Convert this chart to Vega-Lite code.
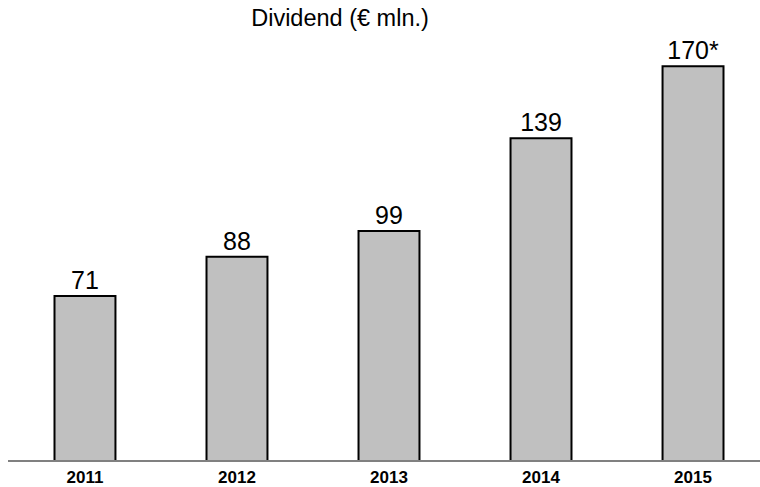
{
  "$schema": "https://vega.github.io/schema/vega-lite/v6.json",
  "width": 752,
  "height": 418,
  "autosize": {"type": "none"},
  "padding": {"left": 8, "top": 43, "right": 0, "bottom": 26},
  "background": "white",
  "config": {"view": {"stroke": null}, "font": "Liberation Sans"},
  "title": {"text": "Dividend (€ mln.)", "fontSize": 23.5, "fontWeight": "normal", "font": "Liberation Sans", "color": "#000000", "anchor": "middle", "dx": -44, "dy": 25, "offset": 15, "baseline": "alphabetic"},
  "data": {"values": [
    {"year": "2011", "value": 71, "label": "71"},
    {"year": "2012", "value": 88, "label": "88"},
    {"year": "2013", "value": 99, "label": "99"},
    {"year": "2014", "value": 139, "label": "139"},
    {"year": "2015", "value": 170, "label": "170*"}
  ]},
  "encoding": {
    "x": {"field": "year", "type": "nominal", "sort": null,
      "scale": {"range": [46.5, 715.5], "paddingInner": 0.599, "paddingOuter": 0, "align": 0},
      "axis": {"title": null, "domain": false, "ticks": false, "labelAngle": 0, "labelFontSize": 17, "labelFontWeight": "bold", "labelColor": "#000000", "labelPadding": 8, "labelFont": "Liberation Sans"}}
  },
  "layer": [
    {"mark": {"type": "bar", "color": "#c0c0c0", "stroke": "#000000", "strokeWidth": 2},
      "encoding": {"y": {"field": "value", "type": "quantitative", "scale": {"domain": [0, 180]}, "axis": null}}},
    {"mark": {"type": "text", "fontSize": 25, "baseline": "alphabetic", "dy": -7, "color": "#000000", "font": "Liberation Sans"},
      "encoding": {"y": {"field": "value", "type": "quantitative"}, "text": {"field": "label"}}},
    {"mark": {"type": "rule", "color": "#808080", "strokeWidth": 1.5},
      "encoding": {"y": {"datum": 0, "type": "quantitative"}, "x": null}}
  ]
}
